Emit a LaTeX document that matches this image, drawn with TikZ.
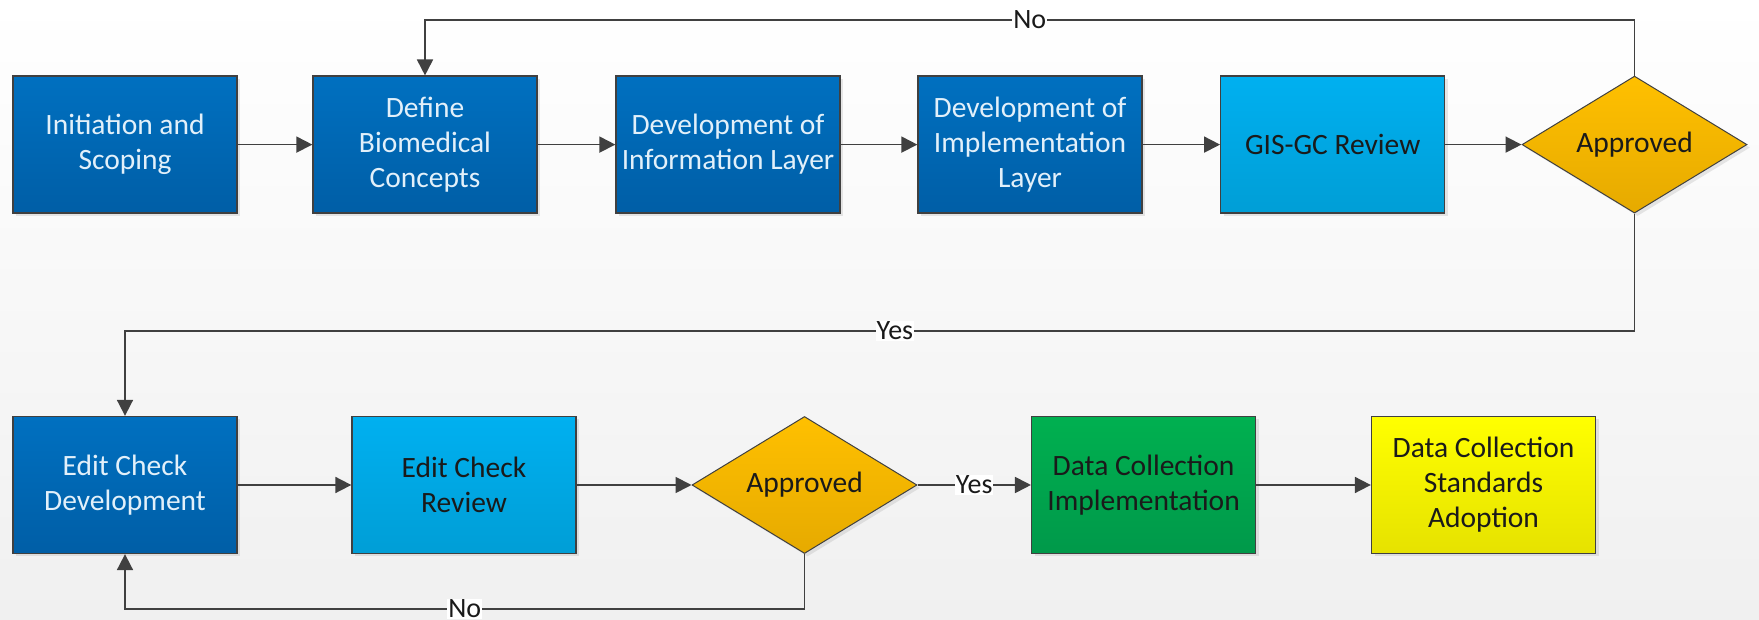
\documentclass[tikz,border=0pt]{standalone}
\usepackage{fontspec}
\setmainfont{Carlito}
\usetikzlibrary{shapes.geometric,arrows.meta,shadows}
\definecolor{lineclr}{HTML}{404040}
\definecolor{dbtop}{HTML}{0070C0}
\definecolor{dbbot}{HTML}{005EA6}
\definecolor{lbtop}{HTML}{00B0F0}
\definecolor{lbbot}{HTML}{009ED6}
\definecolor{ortop}{HTML}{FFC000}
\definecolor{orbot}{HTML}{E6AA00}
\definecolor{grtop}{HTML}{00B050}
\definecolor{grbot}{HTML}{00994A}
\definecolor{yetop}{HTML}{FFFF00}
\definecolor{yebot}{HTML}{E6E200}
\definecolor{lighttext}{HTML}{E2F0FA}
\definecolor{darktext}{HTML}{1A1A1A}
\definecolor{bgbot}{HTML}{F0F0F0}
\tikzset{
  boxbase/.style={rectangle, draw=lineclr, line width=1.3pt, minimum width=224pt, minimum height=137pt,
    inner sep=4pt, align=center, font=\fontsize{29.5}{35}\selectfont,
    drop shadow={shadow xshift=3pt, shadow yshift=-3pt, opacity=0.18}},
  darkbox/.style={boxbase, top color=dbtop, bottom color=dbbot, text=lighttext},
  lightbox/.style={boxbase, top color=lbtop, bottom color=lbbot, text=darktext},
  greenbox/.style={boxbase, top color=grtop, bottom color=grbot, text=darktext},
  yellowbox/.style={boxbase, top color=yetop, bottom color=yebot, text=darktext},
  decision/.style={diamond, draw=lineclr, line width=1pt, minimum width=225pt, minimum height=137pt,
    aspect=1.64, inner sep=0pt, top color=ortop, bottom color=orbot, text=darktext,
    font=\fontsize{29.5}{35}\selectfont,
    drop shadow={shadow xshift=3pt, shadow yshift=-3pt, opacity=0.18}},
  arr/.style={draw=lineclr, line width=1.8pt, -{Triangle[length=16pt,width=16pt]}},
  lbl/.style={fill=white, inner sep=1pt, text=darktext, font=\fontsize{28}{33}\selectfont}
}
\begin{document}
\begin{tikzpicture}[x=1pt,y=1pt]
\useasboundingbox (0,0) rectangle (1759,620);
\shade[top color=white, bottom color=bgbot] (0,0) rectangle (1759,620);
% row 1
\node[darkbox] (b1) at (125,475.4) {Initiation and\\Scoping};
\node[darkbox] (b2) at (425,475.4) {Define\\Biomedical\\Concepts};
\node[darkbox] (b3) at (728,475.4) {Development of\\Information Layer};
\node[darkbox] (b4) at (1030,475.4) {Development of\\Implementation\\Layer};
\node[lightbox] (b5) at (1332.7,475.4) {GIS-GC Review};
\node[decision] (d1) at (1634.5,475.4) {Approved};
% row 2
\node[darkbox] (b6) at (125,135) {Edit Check\\Development};
\node[lightbox] (b7) at (464,135) {Edit Check\\Review};
\node[decision] (d2) at (804.5,135) {Approved};
\node[greenbox] (b8) at (1143.6,135) {Data Collection\\Implementation};
\node[yellowbox] (b9) at (1483.5,135) {Data Collection\\Standards\\Adoption};
% helper levels
\coordinate (topy) at (0,600);
\coordinate (yesy) at (0,289);
\coordinate (noy) at (0,11);
% connectors
\draw[arr] (b1) -- (b2);
\draw[arr] (b2) -- (b3);
\draw[arr] (b3) -- (b4);
\draw[arr] (b4) -- (b5);
\draw[arr] (b5) -- (d1);
\draw[arr] (d1.north) |- node[lbl, pos=0.75] {No} (b2.north |- topy) -- (b2.north);
\draw[arr] (d1.south) |- node[lbl, pos=0.745] {Yes} (b6.north |- yesy) -- (b6.north);
\draw[arr] (b6) -- (b7);
\draw[arr] (b7) -- (d2);
\draw[arr] (d2) -- node[lbl] {Yes} (b8);
\draw[arr] (b8) -- (b9);
\draw[arr] (d2.south) |- node[lbl, pos=0.75] {No} (b6.south |- noy) -- (b6.south);
\end{tikzpicture}
\end{document}
